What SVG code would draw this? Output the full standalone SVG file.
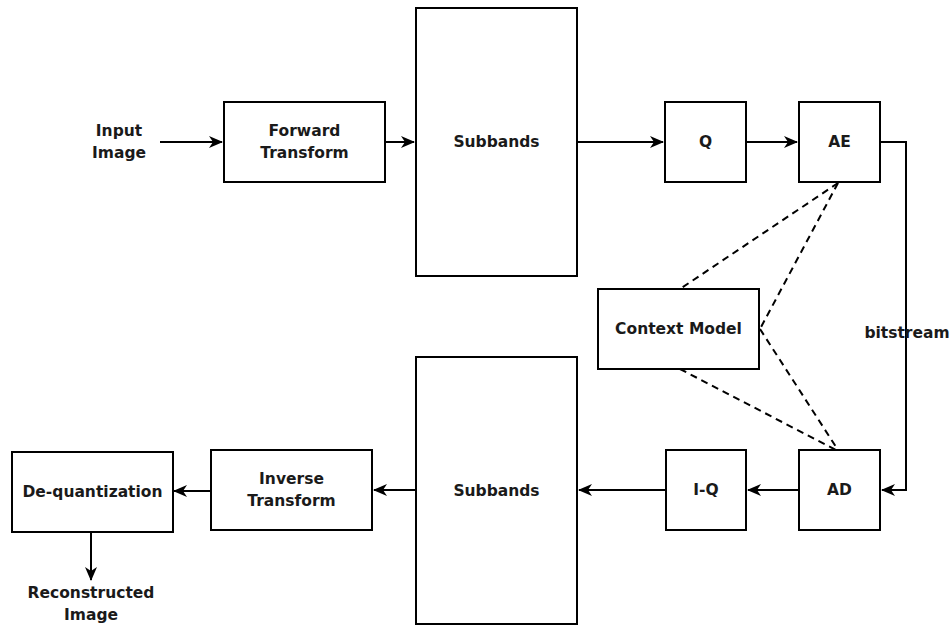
<svg xmlns="http://www.w3.org/2000/svg" width="952" height="626" viewBox="0 0 952 626">
<defs>
<marker id="arr" markerWidth="14" markerHeight="12" refX="13" refY="6" orient="auto" markerUnits="userSpaceOnUse" viewBox="0 0 14 12">
<path d="M0,0 L14,6 L0,12 L4,6 Z" fill="#000"/>
</marker>
</defs>
<style>
.box{fill:#fff;stroke:#000;stroke-width:2}
.t{font-family:"DejaVu Sans",Verdana,sans-serif;font-weight:bold;font-size:15.5px;fill:#1a1a1a;text-anchor:middle;dominant-baseline:central}
.c{fill:none;stroke:#000;stroke-width:2}
.d{fill:none;stroke:#000;stroke-width:2;stroke-dasharray:7 5}
</style>
<rect width="952" height="626" fill="#fff"/>
<g id="connectors">
<path class="c" d="M160,142 H222" marker-end="url(#arr)"/>
<path class="c" d="M385,142 H414" marker-end="url(#arr)"/>
<path class="c" d="M577,142 H663" marker-end="url(#arr)"/>
<path class="c" d="M746,142 H797" marker-end="url(#arr)"/>
<path class="c" d="M880,142 H906 V490 H882" marker-end="url(#arr)"/>
<path class="c" d="M799,490 H748" marker-end="url(#arr)"/>
<path class="c" d="M666,490 H579" marker-end="url(#arr)"/>
<path class="c" d="M416,490 H374" marker-end="url(#arr)"/>
<path class="c" d="M211,491 H174" marker-end="url(#arr)"/>
<path class="c" d="M91,532 V580" marker-end="url(#arr)"/>
<path class="d" d="M838,183 L680,289"/>
<path class="d" d="M838,183 L760,329"/>
<path class="d" d="M680,369 L836,450"/>
<path class="d" d="M760,329 L838,450"/>
<text class="t" x="907" y="333">bitstream</text>
</g>
<g id="input"><text class="t" x="119" y="131">Input</text><text class="t" x="119" y="153">Image</text></g>
<g id="forward"><rect class="box" x="224" y="102" width="161" height="80"/><text class="t" x="304.5" y="131">Forward</text><text class="t" x="304.5" y="153">Transform</text></g>
<g id="subbands1"><rect class="box" x="416" y="8" width="161" height="268"/><text class="t" x="496.5" y="142">Subbands</text></g>
<g id="q"><rect class="box" x="665" y="102" width="81" height="80"/><text class="t" x="705.5" y="142">Q</text></g>
<g id="ae"><rect class="box" x="799" y="102" width="81" height="80"/><text class="t" x="839.5" y="142">AE</text></g>
<g id="context"><rect class="box" x="598" y="289" width="161" height="80"/><text class="t" x="678.5" y="329">Context Model</text></g>
<g id="subbands2"><rect class="box" x="416" y="357" width="161" height="267"/><text class="t" x="496.5" y="491">Subbands</text></g>
<g id="iq"><rect class="box" x="666" y="450" width="80" height="80"/><text class="t" x="706" y="490">I-Q</text></g>
<g id="ad"><rect class="box" x="799" y="450" width="81" height="80"/><text class="t" x="839.5" y="490">AD</text></g>
<g id="inverse"><rect class="box" x="211" y="450" width="161" height="80"/><text class="t" x="291.5" y="479">Inverse</text><text class="t" x="291.5" y="501">Transform</text></g>
<g id="dequant"><rect class="box" x="12" y="452" width="161" height="80"/><text class="t" x="92.5" y="492">De-quantization</text></g>
<g id="recon"><text class="t" x="91" y="593">Reconstructed</text><text class="t" x="91" y="615">Image</text></g>
</svg>
